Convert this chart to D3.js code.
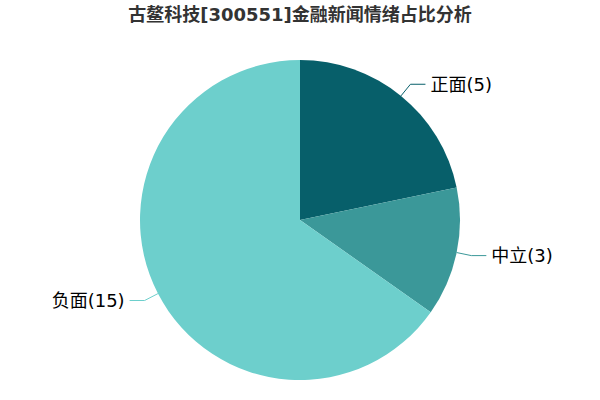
<!DOCTYPE html>
<html>
<head>
<meta charset="utf-8">
<script src="https://cdn.jsdelivr.net/npm/d3@7"></script>
<style>
  body { margin: 0; background: #fff; }
  text { font-family: "DejaVu Sans", "Noto Sans CJK SC", sans-serif; }
</style>
</head>
<body>
<div id="chart-area"></div>
<script>
const titleText = "古鳌科技[300551]金融新闻情绪占比分析";
const categories = ["正面", "中立", "负面"];
const counts = [5, 3, 15];
const colors = ["#075f6a", "#3b9899", "#6dcfcc"];

const drawPie = () => {
  const chartSize = { width: 600, height: 400 };
  const center = { x: 300, y: 220 };
  const radius = 160;

  const data = categories.map((c, i) => ({ name: c, value: counts[i], color: colors[i] }));

  const svg = d3.select("#chart-area")
    .append("svg")
    .attr("width", chartSize.width)
    .attr("height", chartSize.height);

  svg.append("text")
    .attr("x", chartSize.width / 2)
    .attr("y", 21)
    .attr("text-anchor", "middle")
    .attr("font-size", 18)
    .attr("font-weight", "bold")
    .attr("fill", "#333")
    .text(titleText);

  const pie = d3.pie().sort(null).value(d => d.value);
  const arcs = pie(data);
  const arc = d3.arc().innerRadius(0).outerRadius(radius);

  const g = svg.append("g")
    .attr("transform", `translate(${center.x}, ${center.y})`);

  g.selectAll("path")
    .data(arcs)
    .enter()
    .append("path")
    .attr("d", arc)
    .attr("fill", d => d.data.color);

  const point = (a, r) => [Math.sin(a) * r, -Math.cos(a) * r];

  arcs.forEach(d => {
    const mid = (d.startAngle + d.endAngle) / 2;
    const p0 = point(mid, radius);
    const p1 = point(mid, radius + 15);
    const right = Math.sin(mid) >= 0;
    const p2 = [p1[0] + (right ? 15 : -15), p1[1]];

    g.append("polyline")
      .attr("points", [p0, p1, p2].map(p => p.join(",")).join(" "))
      .attr("fill", "none")
      .attr("stroke", d.data.color)
      .attr("stroke-width", 1);

    g.append("text")
      .attr("x", p2[0] + (right ? 5 : -5))
      .attr("y", p2[1])
      .attr("dy", "0.35em")
      .attr("text-anchor", right ? "start" : "end")
      .attr("font-size", 18)
      .attr("fill", "#000")
      .text(`${d.data.name}(${d.data.value})`);
  });
};

window.onload = drawPie;
</script>
</body>
</html>
